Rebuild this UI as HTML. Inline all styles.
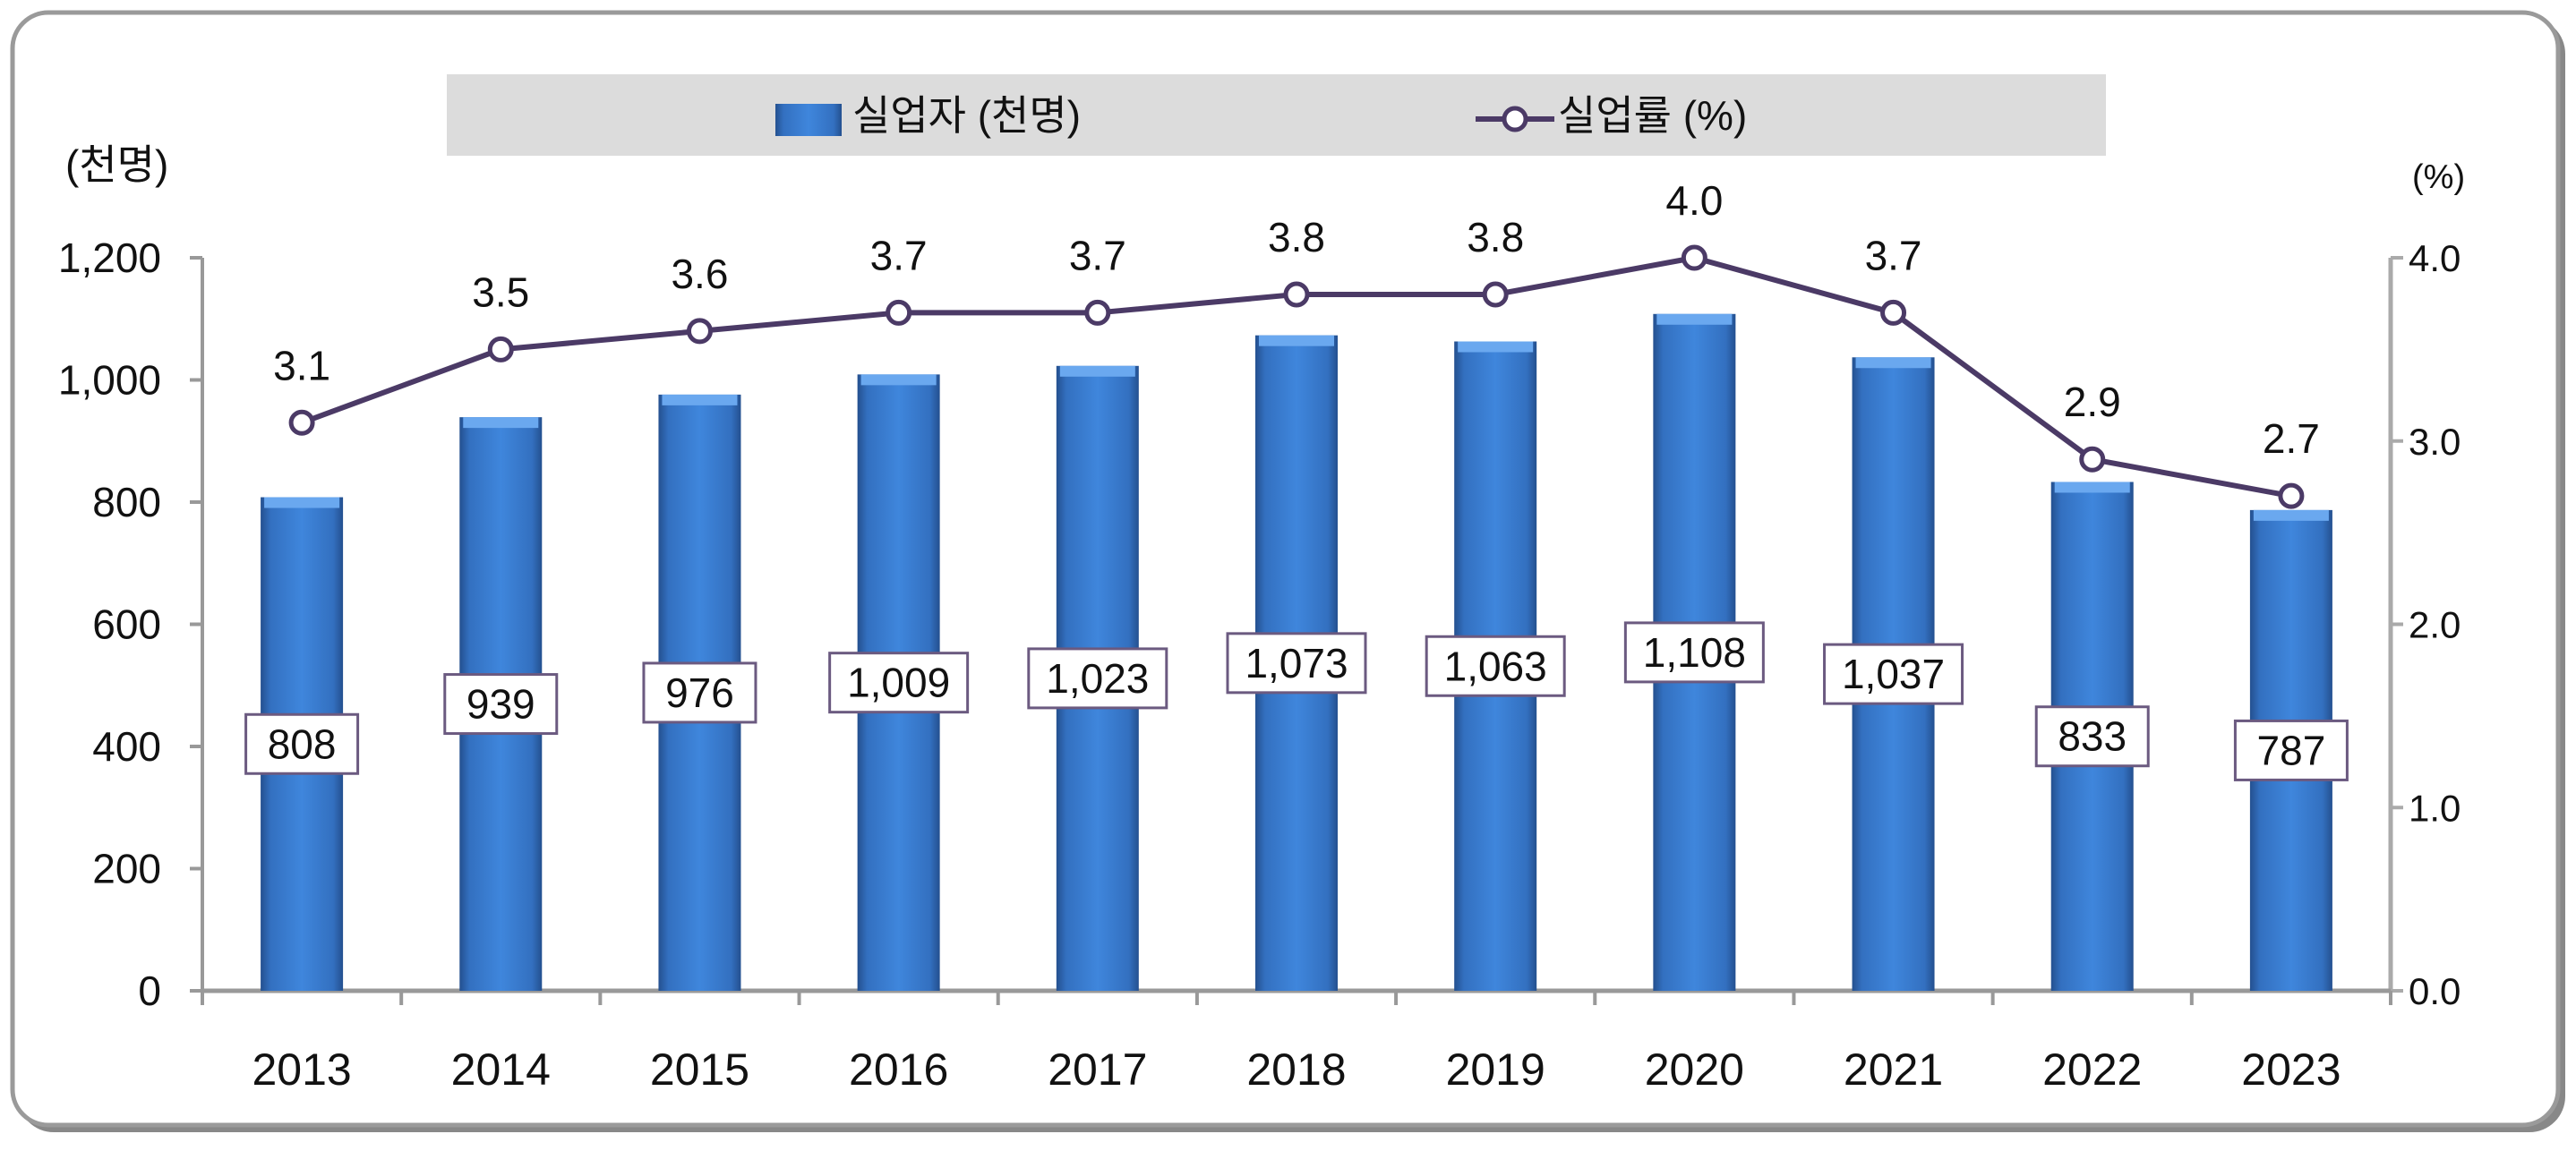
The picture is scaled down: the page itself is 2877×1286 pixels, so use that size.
<!DOCTYPE html>
<html><head><meta charset="utf-8"><style>
html,body{margin:0;padding:0;background:#fff;}
svg{display:block;}
text{font-family:"Liberation Sans","Noto Sans CJK KR",sans-serif;fill:#111;}
</style></head><body>
<svg id="chart" width="2877" height="1286" viewBox="0 0 2877 1286">
<defs>
<linearGradient id="barGrad" x1="0" x2="1" y1="0" y2="0">
<stop offset="0" stop-color="#24508f"/><stop offset="0.12" stop-color="#3370c0"/><stop offset="0.5" stop-color="#3f86dc"/><stop offset="0.88" stop-color="#3370c0"/><stop offset="1" stop-color="#24508f"/>
</linearGradient>
<linearGradient id="barV" x1="0" x2="0" y1="0" y2="1">
<stop offset="0" stop-color="#ffffff" stop-opacity="0"/><stop offset="1" stop-color="#1a3a70" stop-opacity="0.25"/>
</linearGradient>
</defs>
<rect x="20" y="20" width="2845" height="1245" rx="40" fill="#888"/>
<rect x="14" y="14" width="2843" height="1243" rx="40" fill="#fff" stroke="#9a9a9a" stroke-width="5"/>
<g id="legend">
<rect x="499" y="83" width="1853" height="91" fill="#dcdcdc"/>
<rect x="866" y="116" width="74" height="36" fill="url(#barGrad)"/>
<text x="952" y="145" font-size="46">실업자 (천명)</text>
<line x1="1648" y1="133" x2="1736" y2="133" stroke="#4b3a66" stroke-width="6"/>
<circle cx="1692" cy="133" r="12" fill="#fff" stroke="#4b3a66" stroke-width="5"/>
<text x="1740" y="145" font-size="46">실업률 (%)</text>
</g>
<text x="73" y="200" font-size="46">(천명)</text>
<text x="2694" y="210" font-size="38">(%)</text>
<g id="plot"></g>
</svg>
<script>
const years=['2013','2014','2015','2016','2017','2018','2019','2020','2021','2022','2023'];
const unemployed=[808,939,976,1009,1023,1073,1063,1108,1037,833,787];
const unemployedLabels=['808','939','976','1,009','1,023','1,073','1,063','1,108','1,037','833','787'];
const rate=[3.1,3.5,3.6,3.7,3.7,3.8,3.8,4.0,3.7,2.9,2.7];
const leftTicks=[0,200,400,600,800,1000,1200];
const leftTickLabels=['0','200','400','600','800','1,000','1,200'];
const rightTicks=[0,1,2,3,4];
const rightTickLabels=['0.0','1.0','2.0','3.0','4.0'];

const NS='http://www.w3.org/2000/svg';
const g=document.getElementById('plot');
const X0=226,X1=2670,YT=288,YB=1107;
const band=(X1-X0)/years.length;
const xC=i=>X0+band*(i+0.5);
const yL=v=>YB-(v/1200)*(YB-YT);
const yR=v=>YB-(v/4)*(YB-YT);
function mk(tag,attrs,parent){const e=document.createElementNS(NS,tag);for(const k in attrs)e.setAttribute(k,attrs[k]);(parent||g).appendChild(e);return e;}

// left axis
let e=mk('line',{x1:X0,y1:YT,x2:X0,y2:YB,stroke:'#999','stroke-width':4});


leftTicks.forEach((t,i)=>{
 let tk=mk('line',{x1:X0-14,y1:yL(t),x2:X0,y2:yL(t),stroke:'#999','stroke-width':4});
 
 
 let tx=mk('text',{x:180,y:yL(t)+16,'font-size':46,'text-anchor':'end'});
 tx.textContent=leftTickLabels[i];
 
 
});
// right axis
e=mk('line',{x1:X1,y1:YT,x2:X1,y2:YB,stroke:'#aaa','stroke-width':5});


rightTicks.forEach((t,i)=>{
 let tk=mk('line',{x1:X1,y1:yR(t),x2:X1+14,y2:yR(t),stroke:'#aaa','stroke-width':4});
 
 
 let tx=mk('text',{x:2690,y:yR(t)+15,'font-size':42});
 tx.textContent=rightTickLabels[i];
 
 
});
// x axis
e=mk('line',{x1:X0,y1:YB,x2:X1,y2:YB,stroke:'#999','stroke-width':5});


for(let i=0;i<=years.length;i++){
 let tk=mk('line',{x1:X0+band*i,y1:YB,x2:X0+band*i,y2:YB+16,stroke:'#999','stroke-width':4});
 
 
}
const BW=92;
years.forEach((y,i)=>{
 let tx=mk('text',{x:xC(i),y:1212,'font-size':50,'text-anchor':'middle'});
 tx.textContent=y;
 
 
 let b=mk('rect',{x:xC(i)-BW/2,y:yL(unemployed[i]),width:BW,height:YB-yL(unemployed[i]),fill:'url(#barGrad)'});
 
 
 let bt=mk('rect',{x:xC(i)-BW/2+4,y:yL(unemployed[i]),width:BW-8,height:12,fill:'#6aa8ef'});
 
 
});
// bar value boxes
years.forEach((y,i)=>{
 const lab=unemployedLabels[i];
 const w=lab.length>3?154:125;
 const cy=yL(unemployed[i]/2);
 let r=mk('rect',{x:xC(i)-w/2,y:cy-33,width:w,height:66,fill:'#fff',stroke:'#6b5a80','stroke-width':3});
 
 
 let t=mk('text',{x:xC(i),y:cy+16,'font-size':46,'text-anchor':'middle'});
 t.textContent=lab;
 
 
});
// rate line
const pts=rate.map((v,i)=>xC(i)+','+yR(v)).join(' ');
e=mk('polyline',{points:pts,fill:'none',stroke:'#4b3a66','stroke-width':6});


rate.forEach((v,i)=>{
 let c=mk('circle',{cx:xC(i),cy:yR(v),r:12,fill:'#fff',stroke:'#4b3a66','stroke-width':5});
 
 
 let t=mk('text',{x:xC(i),y:yR(v)-48,'font-size':46,'text-anchor':'middle'});
 t.textContent=v.toFixed(1);
 
 
});
</script>
</body></html>
